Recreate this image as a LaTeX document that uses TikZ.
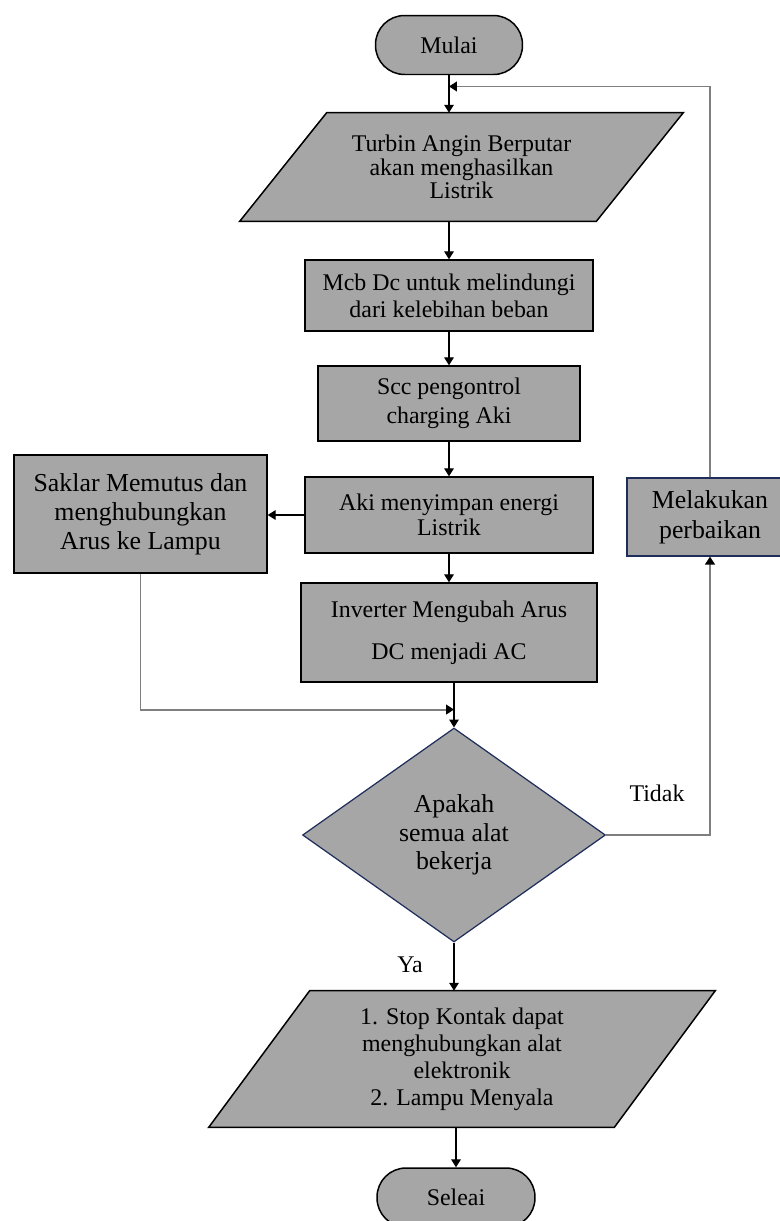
\documentclass[tikz,border=0pt]{standalone}
\usepackage{fontspec}
\setmainfont{Liberation Serif}
\usepackage{xcolor}
\usepackage{tikz}
\usetikzlibrary{positioning, arrows.meta, shapes.geometric, calc, backgrounds}
\definecolor{boxgray}{HTML}{A6A6A6}
\definecolor{navy}{HTML}{1F2D5A}
\definecolor{linegray}{HTML}{7F7F7F}

% parallelogram behind a text node: #1 node, #2 half of the slant
\newcommand{\paral}[2]{%
  \begin{scope}[on background layer]
    \filldraw[draw=black, line width=0.85pt, fill=boxgray]
      ([xshift=#2]#1.north west) -- ([xshift=#2]#1.north east)
      -- ([xshift=-#2]#1.south east) -- ([xshift=-#2]#1.south west) -- cycle;
  \end{scope}}

\begin{document}
\begin{tikzpicture}[x=0.02cm, y=-0.02cm,
    box/.style={draw=black, line width=0.85pt, fill=boxgray, align=center,
      inner sep=0pt, font=\fontsize{13.6}{15.6}\selectfont},
    term/.style={box, rounded corners=0.58cm, minimum width=2.94cm, minimum height=1.18cm},
    io/.style={align=center, inner sep=0pt, font=\fontsize{13.6}{15.3}\selectfont},
    dec/.style={diamond, draw=navy, line width=0.7pt, fill=boxgray, align=center,
      inner sep=0pt, aspect=1.416, minimum width=6.06cm, minimum height=4.28cm,
      font=\fontsize{14.7}{16.2}\selectfont},
    arr/.style={-{Triangle[length=4.5pt, width=5.5pt]}, line width=0.6pt},
    back/.style={-{Triangle[length=4.5pt, width=5.5pt, color=black]},
      draw=linegray, line width=1.1pt},
    lbl/.style={font=\fontsize{13.6}{15.6}\selectfont}]
  \useasboundingbox (0,0) rectangle (779,1221);

  % main column
  \node[term] (mulai) at (449,45) {Mulai};
  \node[io, minimum width=7.12cm, minimum height=2.16cm,
    font=\fontsize{13.6}{13.4}\selectfont] (turbin) at (461.5,167)
    {Turbin Angin Berputar\\akan menghasilkan\\Listrik};
  \paral{turbin}{0.87cm}
  \node[box, minimum width=5.76cm, minimum height=1.42cm,
    font=\fontsize{13.6}{15.3}\selectfont] (mcb) at (449,295.5)
    {Mcb Dc untuk melindungi\\dari kelebihan beban};
  \node[box, minimum width=5.24cm, minimum height=1.5cm,
    font=\fontsize{13.6}{16.4}\selectfont] (scc) at (449,403.5)
    {Scc pengontrol\\charging Aki};
  \node[box, minimum width=5.76cm, minimum height=1.52cm,
    font=\fontsize{13.6}{14.2}\selectfont] (aki) at (449,515)
    {Aki menyimpan energi\\Listrik};
  \node[box, minimum width=5.92cm, minimum height=1.98cm,
    font=\fontsize{13.6}{23.8}\selectfont] (inverter) at (449,632.5)
    {Inverter Mengubah Arus\\DC menjadi AC};
  \node[box, minimum width=5.06cm, minimum height=2.36cm,
    font=\fontsize{14.7}{16.4}\selectfont] (saklar) at (140.5,514)
    {Saklar Memutus dan\\menghubungkan\\Arus ke Lampu};
  \node[box, draw=navy, line width=0.7pt, minimum width=3.32cm, minimum height=1.56cm,
    font=\fontsize{14.7}{17}\selectfont] (perbaikan) at (710,517)
    {Melakukan\\perbaikan};
  \node[dec] (cek) at (454,835) {Apakah\\semua alat\\bekerja};
  \node[io, minimum width=8.1cm, minimum height=2.72cm] (stop) at (462,1059)
    {1. Stop Kontak dapat\\menghubungkan alat\\elektronik\\2. Lampu Menyala};
  \paral{stop}{1.01cm}
  \node[term, minimum width=3.16cm] (seleai) at (456,1197.5) {Seleai};

  \node[lbl] (tidak) at (657,793) {Tidak};
  \node[lbl] (ya) at (410,965) {Ya};

  % connectors
  \coordinate (loopin) at ($(mulai.south)!0.3!(mulai.south |- turbin.north)$);
  \coordinate (join) at ($(cek.north |- inverter.south)!0.6!(cek.north)$);
  \draw[arr] (mulai.south) -- (mulai.south |- turbin.north);
  \draw[arr] (turbin.south -| mcb.north) -- (mcb.north);
  \draw[arr] (mcb) -- (scc);
  \draw[arr] (scc) -- (aki);
  \draw[arr] (aki) -- (inverter);
  \draw[arr] (aki.west) -- (aki.west -| saklar.east);
  \draw[arr] (cek.north |- inverter.south) -- (cek.north);
  \draw[back] (saklar.south) |- (join);
  \draw[back] (cek.east) -| (perbaikan.south);
  \draw[back] (perbaikan.north) |- (loopin);
  \draw[arr] (cek.south) -- (cek.south |- stop.north);
  \draw[arr] (seleai.north |- stop.south) -- (seleai.north);
\end{tikzpicture}
\end{document}
